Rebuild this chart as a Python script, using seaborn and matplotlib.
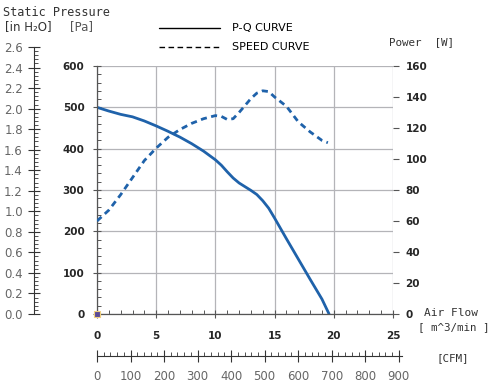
import numpy as np
import pandas as pd
import matplotlib
matplotlib.use("Agg")
import matplotlib.pyplot as plt
from matplotlib.ticker import MultipleLocator
import seaborn as sns

# -----------------------------------------------------------------------------
# Données lues sur la courbe du ventilateur
# -----------------------------------------------------------------------------
flow_pq = [0, 1, 2, 3, 4, 5, 6, 7, 8, 9, 10, 10.5, 11, 11.5, 12, 12.5, 13, 13.5, 14,
           14.5, 15, 16, 17, 18, 19, 19.6]
pressure_pa = [500, 491, 483, 477, 467, 455, 442, 428, 412, 394, 373, 360, 344, 329,
               317, 308, 299, 289, 274, 256, 232, 182, 133, 84, 36, 0]

flow_speed = [0, 1, 2, 3, 4, 5, 6, 7, 8, 9, 10, 10.5, 11, 11.5, 12, 12.5, 13, 13.5,
              14, 14.5, 15, 15.5, 16, 17, 18, 19, 19.5]
power_w = [60, 67, 77, 88, 99, 107, 114, 119, 123, 126, 128, 127.5, 125.5, 126, 130,
           134.5, 139, 142.5, 144, 143.5, 140, 137, 134, 124, 117.5, 112, 110.5]

origin_point = [0, 0]

pa_ticks = [0, 100, 200, 300, 400, 500, 600]
power_ticks = [0, 20, 40, 60, 80, 100, 120, 140, 160]
flow_ticks = [0, 5, 10, 15, 20, 25]
inh2o_ticks = [0.0, 0.2, 0.4, 0.6, 0.8, 1.0, 1.2, 1.4, 1.6, 1.8, 2.0, 2.2, 2.4, 2.6]
cfm_ticks = [0, 100, 200, 300, 400, 500, 600, 700, 800, 900]

BLUE = '#1f62aa'
GRID = '#b4b4b8'
SPINE = '#555555'
W, H = 490, 383

sns.set_style('white')
plt.rcParams['font.family'] = ['DejaVu Sans']

df_pq = pd.DataFrame({'flow': flow_pq, 'pressure': pressure_pa})
df_speed = pd.DataFrame({'flow': flow_speed, 'power': power_w})


def px(x, y):
    """pixels (haut-gauche) -> coordonnées figure"""
    return x / W, 1 - y / H


fig = plt.figure(figsize=(4.9, 3.83), dpi=100)

# -----------------------------------------------------------------------------
# Axe principal : Pa / m3/min
# -----------------------------------------------------------------------------
ax = fig.add_axes([97 / W, (H - 314) / H, (393 - 97) / W, (314 - 66) / H])
ax.set_xlim(0, 25)
ax.set_ylim(0, 600)
ax.set_xticks(flow_ticks)
ax.set_yticks(pa_ticks)
ax.xaxis.set_minor_locator(MultipleLocator(1))
ax.yaxis.set_minor_locator(MultipleLocator(20))
ax.grid(True, which='major', color=GRID, linewidth=0.9)
ax.grid(False, which='minor')
for s in ['top', 'right']:
    ax.spines[s].set_visible(False)
for s in ['left', 'bottom']:
    ax.spines[s].set_color(SPINE)
    ax.spines[s].set_linewidth(0.9)
ax.tick_params(axis='both', which='both', left=True, bottom=True)
ax.tick_params(axis='both', which='major', direction='inout', length=6, width=0.8,
               color=SPINE, labelsize=7.5)
ax.tick_params(axis='both', which='minor', direction='in', length=3, width=0.7, color=SPINE)
ax.tick_params(axis='y', which='major', pad=6)
ax.tick_params(axis='x', which='major', pad=9)
for lab in ax.get_xticklabels() + ax.get_yticklabels():
    lab.set_fontweight('bold')

sns.lineplot(data=df_pq, x='flow', y='pressure', ax=ax, color=BLUE, linewidth=2.0,
             sort=False, legend=False)
ax.set_xlabel('')
ax.set_ylabel('')

# Axe secondaire : puissance
ax2 = ax.twinx()
ax2.set_ylim(0, 160)
ax2.set_yticks(power_ticks)
for s in ax2.spines.values():
    s.set_visible(False)
ax2.tick_params(axis='y', which='major', right=True, direction='out', length=4, width=0.8,
                color=SPINE, labelsize=7.5, pad=5)
for lab in ax2.get_yticklabels():
    lab.set_fontweight('bold')
sns.lineplot(data=df_speed, x='flow', y='power', ax=ax2, color=BLUE, linewidth=2.0,
             sort=False, legend=False)
ax2.lines[-1].set_linestyle((0, (2.2, 1.6)))
ax2.set_ylabel('')
ax2.grid(False)

ax.scatter([origin_point[0]], [origin_point[1]], marker='s', s=14, color='#5a4a96',
           edgecolor='#f0d080', linewidth=0.8, zorder=5, clip_on=False)

# -----------------------------------------------------------------------------
# Axe in H2O (à gauche)
# -----------------------------------------------------------------------------
ax_in = fig.add_axes([34 / W, (H - 314) / H, 0.0001, (314 - 47) / H])
ax_in.set_ylim(0, 2.6)
ax_in.set_yticks(inh2o_ticks)
ax_in.set_yticklabels([f'{v:.1f}' for v in inh2o_ticks])
ax_in.yaxis.set_minor_locator(MultipleLocator(0.04))
ax_in.set_xticks([])
for s in ['top', 'right', 'bottom']:
    ax_in.spines[s].set_visible(False)
ax_in.spines['left'].set_color('#333333')
ax_in.spines['left'].set_linewidth(0.8)
ax_in.tick_params(axis='y', which='both', left=True)
ax_in.tick_params(axis='y', which='major', direction='inout', length=8, width=0.8,
                  color='#333333', labelsize=8.5, labelcolor='#666666', pad=4)
ax_in.tick_params(axis='y', which='minor', direction='in', length=3, width=0.6,
                  color='#333333')
ax_in.patch.set_visible(False)

# -----------------------------------------------------------------------------
# Axe CFM (en bas)
# -----------------------------------------------------------------------------
cfm_max = 910
ax_cfm = fig.add_axes([97 / W, (H - 356) / H, (cfm_max * 296 / 882.9) / W, 0.0001])
ax_cfm.set_xlim(0, cfm_max)
ax_cfm.set_xticks(cfm_ticks)
ax_cfm.xaxis.set_minor_locator(MultipleLocator(20))
ax_cfm.set_yticks([])
for s in ['top', 'right', 'left']:
    ax_cfm.spines[s].set_visible(False)
ax_cfm.spines['bottom'].set_color('#333333')
ax_cfm.spines['bottom'].set_linewidth(0.8)
ax_cfm.tick_params(axis='x', which='both', bottom=True)
ax_cfm.tick_params(axis='x', which='major', direction='inout', length=8, width=0.8,
                   color='#333333', labelsize=8.5, labelcolor='#666666', pad=6)
ax_cfm.tick_params(axis='x', which='minor', direction='in', length=3, width=0.6,
                   color='#333333')
ax_cfm.patch.set_visible(False)

# -----------------------------------------------------------------------------
# Textes et légende
# -----------------------------------------------------------------------------
mono = 'DejaVu Sans Mono'
fig.text(*px(3, 13), 'Static Pressure', family=mono, fontsize=8.6, color='#333333',
         va='center', ha='left')
fig.text(*px(5, 27), '[in H₂O]', fontsize=8.5, color='#333333', va='center', ha='left')
fig.text(*px(70, 27), '[Pa]', fontsize=8.5, color='#555555', va='center', ha='left')
fig.text(*px(389, 42), 'Power  [W]', family=mono, fontsize=7.8, color='#333333',
         va='center', ha='left')
fig.text(*px(424, 313), 'Air Flow', family=mono, fontsize=8, color='#333333',
         va='center', ha='left')
fig.text(*px(418, 327), '[ m^3/min ]', family=mono, fontsize=7.8, color='#333333',
         va='center', ha='left')
fig.text(*px(436, 358), '[CFM]', family=mono, fontsize=7.8, color='#333333',
         va='center', ha='left')

# légende dessinée à la main
fig.add_artist(plt.Line2D([159 / W, 220 / W], [1 - 28 / H, 1 - 28 / H],
                          color='black', linewidth=1.0, transform=fig.transFigure))
fig.add_artist(plt.Line2D([159 / W, 220 / W], [1 - 47 / H, 1 - 47 / H],
                          color='black', linewidth=1.0, linestyle=(0, (4, 2.5)),
                          transform=fig.transFigure))
fig.text(*px(232, 28), 'P-Q CURVE', fontsize=8, color='black', va='center', ha='left')
fig.text(*px(232, 47), 'SPEED CURVE', fontsize=8, color='black', va='center', ha='left')

fig.savefig('out.png', dpi=100)
